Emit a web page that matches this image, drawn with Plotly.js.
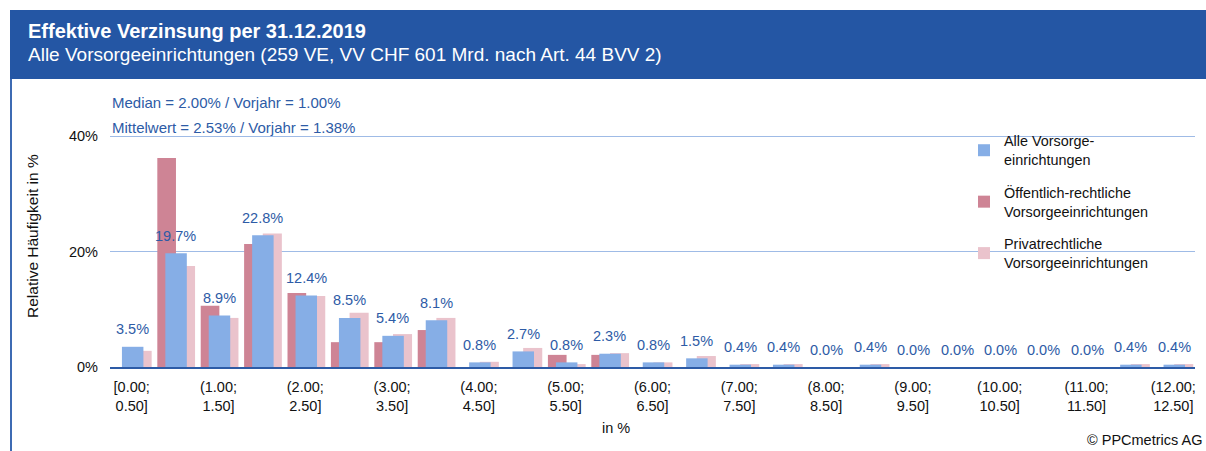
<!DOCTYPE html>
<html>
<head>
<meta charset="utf-8">
<script src="https://cdn.plot.ly/plotly-3.0.1.min.js"></script>
<style>
  html, body { margin: 0; padding: 0; background: #ffffff; }
  #chart { width: 1206px; height: 451px; }
</style>
</head>
<body>
<div id="chart"></div>
<script>
// ---------- data ----------
const categories = [
  '[0.00;<br>0.50]', '(0.50;<br>1.00]', '(1.00;<br>1.50]', '(1.50;<br>2.00]', '(2.00;<br>2.50]',
  '(2.50;<br>3.00]', '(3.00;<br>3.50]', '(3.50;<br>4.00]', '(4.00;<br>4.50]', '(4.50;<br>5.00]',
  '(5.00;<br>5.50]', '(5.50;<br>6.00]', '(6.00;<br>6.50]', '(6.50;<br>7.00]', '(7.00;<br>7.50]',
  '(7.50;<br>8.00]', '(8.00;<br>8.50]', '(8.50;<br>9.00]', '(9.00;<br>9.50]', '(9.50;<br>10.00]',
  '(10.00;<br>10.50]', '(10.50;<br>11.00]', '(11.00;<br>11.50]', '(11.50;<br>12.00]', '(12.00;<br>12.50]'
];
const alleVE = [3.5, 19.7, 8.9, 22.8, 12.4, 8.5, 5.4, 8.1, 0.8, 2.7, 0.8, 2.3, 0.8, 1.5, 0.4, 0.4, 0.0, 0.4, 0.0, 0.0, 0.0, 0.0, 0.0, 0.4, 0.4];
const oeffentlichVE = [0.0, 36.2, 10.6, 21.3, 12.8, 4.3, 4.3, 6.4, 0.0, 0.0, 2.1, 2.1, 0.0, 0.0, 0.0, 0.0, 0.0, 0.0, 0.0, 0.0, 0.0, 0.0, 0.0, 0.0, 0.0];
const privatVE = [2.8, 17.5, 8.5, 23.1, 12.3, 9.4, 5.7, 8.5, 0.9, 3.3, 0.5, 2.4, 0.8, 1.9, 0.5, 0.5, 0.0, 0.5, 0.0, 0.0, 0.0, 0.0, 0.0, 0.5, 0.5];
const seriesNames = ['Alle Vorsorge-<br>einrichtungen', 'Öffentlich-rechtliche<br>Vorsorgeeinrichtungen', 'Privatrechtliche<br>Vorsorgeeinrichtungen'];
const yTickVals = [0, 20, 40];
const yTickText = ['0%', '20%', '40%'];
const titleText = 'Effektive Verzinsung per 31.12.2019';
const subtitleText = 'Alle Vorsorgeeinrichtungen (259 VE, VV CHF 601 Mrd. nach Art. 44 BVV 2)';
const medianText = 'Median = 2.00% / Vorjahr = 1.00%';
const meanText = 'Mittelwert = 2.53% / Vorjahr = 1.38%';
const yTitle = 'Relative Häufigkeit in %';
const xTitle = 'in %';
const copyright = '© PPCmetrics AG';

// ---------- layout helpers ----------
const W = 1206, H = 451;
const M = { l: 110, r: 11, t: 134, b: 84 };
const PW = W - M.l - M.r, PH = H - M.t - M.b;
const px = v => (v - M.l) / PW;           // pixel x -> paper x
const py = v => (H - M.b - v) / PH;       // pixel y -> paper y

const FONT = 'Liberation Sans, Arial, Helvetica, sans-serif';
const BLUE_TXT = '#2D5BA6';
const HEADER = '#2456A4';

const idx = categories.map((c, i) => i);
const tickIdx = idx.filter(i => i % 2 === 0);

const traces = [
  {
    type: 'bar', name: seriesNames[1], x: idx, y: oeffentlichVE,
    offset: -0.41, width: 0.43,
    marker: { color: '#CE8495', line: { width: 0 } },
    legendrank: 2, legendgroup: 'b', hoverinfo: 'y'
  },
  {
    type: 'bar', name: seriesNames[2], x: idx, y: privatVE,
    offset: 0.02, width: 0.44,
    marker: { color: '#EAC3CC', line: { width: 0 } },
    legendrank: 3, legendgroup: 'c', hoverinfo: 'y'
  },
  {
    type: 'bar', name: seriesNames[0], x: idx, y: alleVE,
    offset: -0.225, width: 0.495,
    marker: { color: '#86AEE6', line: { width: 0 } },
    legendrank: 1, legendgroup: 'a', hoverinfo: 'y'
  }
];

const annotations = [];
// data labels above "Alle" bars
alleVE.forEach((v, i) => {
  annotations.push({
    x: i + 0.02, y: v, xref: 'x', yref: 'y', text: v.toFixed(1) + '%',
    showarrow: false, xanchor: 'center', yanchor: 'middle', yshift: 17.5,
    font: { family: FONT, size: 14.5, color: BLUE_TXT }
  });
});
// header texts
annotations.push({
  xref: 'paper', yref: 'paper', x: px(26), y: py(31), xanchor: 'left', yanchor: 'middle',
  text: '<b>' + titleText + '</b>', showarrow: false,
  font: { family: FONT, size: 20, color: '#ffffff' }
});
annotations.push({
  xref: 'paper', yref: 'paper', x: px(26), y: py(54.5), xanchor: 'left', yanchor: 'middle',
  text: subtitleText, showarrow: false,
  font: { family: FONT, size: 19, color: '#ffffff' }
});
// statistics
annotations.push({
  xref: 'paper', yref: 'paper', x: px(110), y: py(102.5), xanchor: 'left', yanchor: 'middle',
  text: medianText, showarrow: false, font: { family: FONT, size: 15, color: BLUE_TXT }
});
annotations.push({
  xref: 'paper', yref: 'paper', x: px(110), y: py(128), xanchor: 'left', yanchor: 'middle',
  text: meanText, showarrow: false, font: { family: FONT, size: 15, color: BLUE_TXT }
});
// axis titles
annotations.push({
  xref: 'paper', yref: 'paper', x: px(32), y: py(236), xanchor: 'center', yanchor: 'middle',
  text: yTitle, textangle: -90, showarrow: false, font: { family: FONT, size: 15.5, color: '#111111' }
});
annotations.push({
  xref: 'paper', yref: 'paper', x: px(616), y: py(427.5), xanchor: 'center', yanchor: 'middle',
  text: xTitle, showarrow: false, font: { family: FONT, size: 14.5, color: '#111111' }
});
annotations.push({
  xref: 'paper', yref: 'paper', x: px(1204), y: py(440), xanchor: 'right', yanchor: 'middle',
  text: copyright, showarrow: false, font: { family: FONT, size: 14.5, color: '#111111' }
});

const shapes = [
  { type: 'rect', xref: 'paper', yref: 'paper', x0: px(10), x1: px(1220), y0: py(79), y1: py(10),
    fillcolor: HEADER, line: { width: 0 }, layer: 'below' },
  { type: 'line', xref: 'paper', yref: 'paper', x0: px(11), x1: px(11), y0: py(79), y1: py(460),
    line: { color: '#3E6BB3', width: 2 } }
];

const layout = {
  width: W, height: H,
  margin: M,
  paper_bgcolor: '#ffffff', plot_bgcolor: 'rgba(0,0,0,0)',
  barmode: 'overlay',
  font: { family: FONT, size: 14.5, color: '#111111' },
  showlegend: true,
  legend: {
    x: px(964), y: py(125), xanchor: 'left', yanchor: 'top',
    bgcolor: 'rgba(0,0,0,0)', borderwidth: 0,
    font: { family: FONT, size: 14.4, color: '#111111' },
    tracegroupgap: 11, traceorder: 'grouped', valign: 'middle'
  },
  xaxis: {
    range: [-0.5, 24.5], tickvals: tickIdx, ticktext: tickIdx.map(i => categories[i]),
    showgrid: false, zeroline: false, showline: true, linecolor: '#2D5BA6', linewidth: 2,
    ticks: '', ticklabelstandoff: 6, tickangle: 0,
    tickfont: { family: FONT, size: 14.5, color: '#111111' }, fixedrange: true
  },
  yaxis: {
    range: [0, 40.35], tickvals: yTickVals, ticktext: yTickText,
    showgrid: true, gridcolor: '#9FBBE6', gridwidth: 1, zeroline: false, showline: false,
    ticks: '', ticklabelstandoff: 11,
    tickfont: { family: FONT, size: 14.5, color: '#111111' }, fixedrange: true
  },
  annotations: annotations,
  shapes: shapes
};

Plotly.newPlot('chart', traces, layout, { displayModeBar: false, staticPlot: true });
</script>
</body>
</html>
